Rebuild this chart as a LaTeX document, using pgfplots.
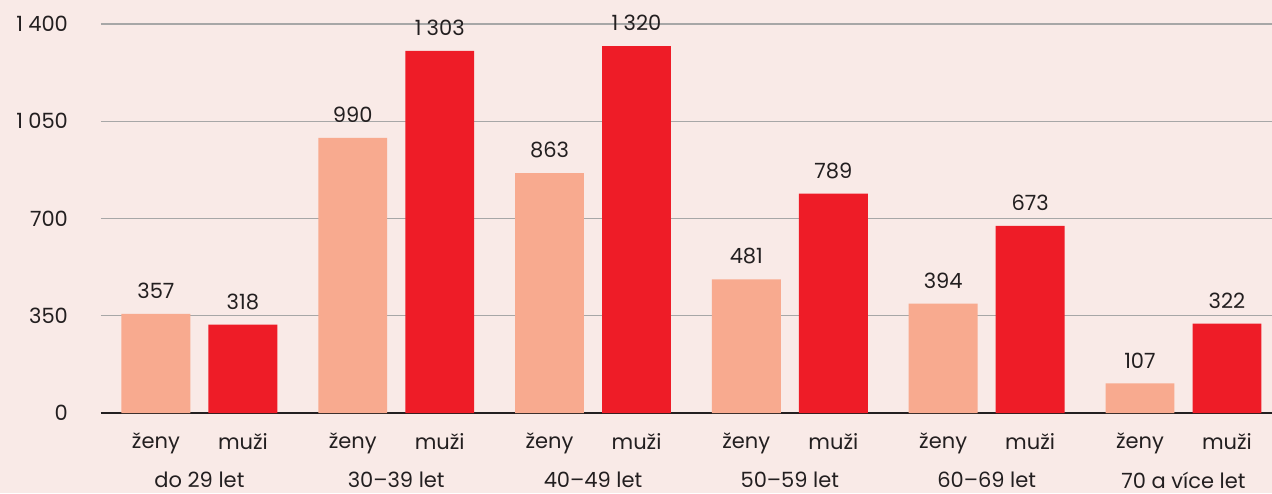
\documentclass[border=0pt]{standalone}
\usepackage{fontspec}
\setmainfont{Poppins}
\usepackage{pgfplots}
\pgfplotsset{compat=1.18}

\definecolor{bg}{HTML}{F9EAE7}
\definecolor{zeny}{HTML}{F8AA8F}
\definecolor{muzi}{HTML}{EE1C27}
\definecolor{txt}{HTML}{231F20}
\definecolor{gridc}{HTML}{A7A7A7}

\pgfplotstableread{
x     zeny   muzi
0     357    318
1     990    1303
2     863    1320
3     481    789
4     394    673
5     107    322
}\data

\begin{document}
\begin{tikzpicture}[font=\fontsize{10.5}{12}\selectfont, text=txt]
\fill[bg] (-50.5pt,-40pt) rectangle (585.5pt,206.5pt);
\begin{axis}[
    at={(0,0)}, anchor=south west,
    scale only axis,
    width=585.5pt, height=206.5pt,
    xmin=-0.5, xmax=5.45,
    ymin=0, ymax=1486,
    clip=false,
    axis x line*=bottom,
    axis y line*=left,
    x axis line style={draw=txt, line width=1.1pt},
    y axis line style={draw=none},
    major tick length=0pt,
    ytick={0,350,700,1050,1400},
    ymajorgrids=true,
    grid style={gridc, line width=0.6pt},
    /pgf/number format/1000 sep={\hskip 2.6pt},
    /pgf/number format/min exponent for 1000 sep=3,
    /pgf/number format/assume math mode=true,
    yticklabel style={anchor=east, xshift=-13pt, text=txt},
    xtick={-0.221,0.221,0.779,1.221,1.779,2.221,2.779,3.221,3.779,4.221,4.779,5.221},
    xticklabels={ženy,muži,ženy,muži,ženy,muži,ženy,muži,ženy,muži,ženy,muži},
    xticklabel style={text=txt, yshift=-6.5pt},
    extra x ticks={0,1,2,3,4,5},
    extra x tick labels={do 29 let,30–39 let,40–49 let,50–59 let,60–69 let,70 a více let},
    extra x tick style={grid=none, tick label style={yshift=-19.5pt}},
    ybar, bar width=0.35,
    nodes near coords,
    nodes near coords style={text=txt, yshift=4pt},
  ]
  \addplot[fill=zeny, draw=none, bar shift=-0.221] table[x=x, y=zeny] {\data};
  \addplot[fill=muzi, draw=none, bar shift=0.221] table[x=x, y=muzi] {\data};
\end{axis}
\pgfresetboundingbox
\useasboundingbox (-50.5pt,-40pt) rectangle (585.5pt,206.5pt);
\end{tikzpicture}
\end{document}
